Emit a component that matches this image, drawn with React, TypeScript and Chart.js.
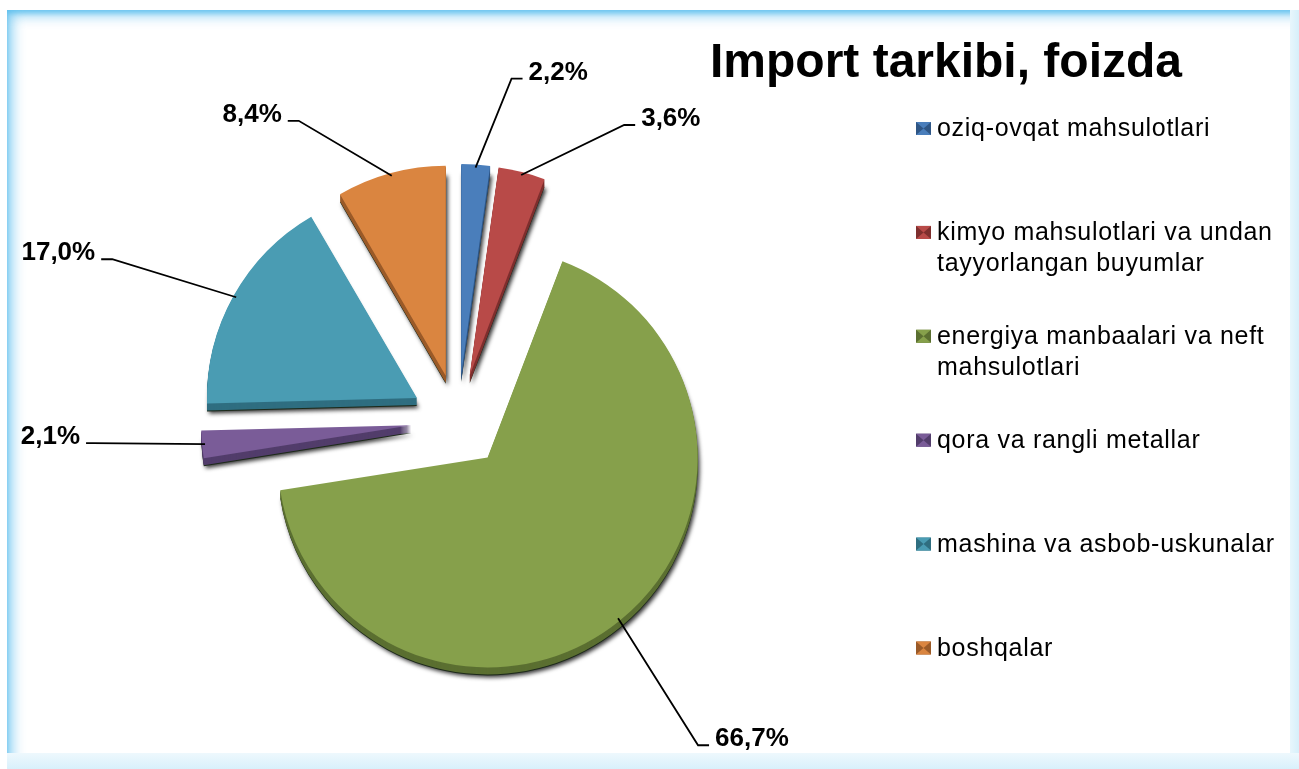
import React, { useEffect, useRef } from 'react';
import { Chart, registerables } from 'chart.js';

Chart.register(...registerables);

const title = 'Import tarkibi, foizda';
const categories = [
  'oziq-ovqat mahsulotlari',
  'kimyo mahsulotlari va undan tayyorlangan buyumlar',
  'energiya manbaalari va neft mahsulotlari',
  'qora va rangli metallar',
  'mashina va asbob-uskunalar',
  'boshqalar',
];
const shares = [2.2, 3.6, 66.7, 2.1, 17.0, 8.4];
const sliceColors = ['#4a7ebb', '#b84a48', '#86a04b', '#7a5c98', '#4a9cb3', '#da8540'];
const sideColors = ['#2f5685', '#7e2f2e', '#5b6f31', '#523d6b', '#2f6e80', '#9a5a28'];
// leader-line elbow offsets relative to the slice anchor (layout only)
const labelElbows = [[36, -89], [103, -50], [80, 127], [-112, -1], [-124, -38], [-93, -55]];

const EXPLODE = 47;
const DEPTH = 8;
const FONT = '"Liberation Sans", Arial, sans-serif';

const fmt = (v: number) => v.toFixed(1).replace('.', ',') + '%';

function drawArcWith(arc: any, ctx: CanvasRenderingContext2D, fill: string) {
  const proxy = Object.create(arc);
  proxy.options = Object.assign({}, arc.options, { backgroundColor: fill, borderWidth: 0, offset: 0 });
  arc.draw.call(proxy, ctx);
}

const pie3dPlugin = {
  id: 'pie3d',
  beforeDatasetDraw(chart: any, args: any) {
    const ctx: CanvasRenderingContext2D = chart.ctx;
    const arcs = args.meta.data;
    // side faces
    arcs.forEach((arc: any, i: number) => {
      const mid = (arc.startAngle + arc.endAngle) / 2;
      const dx = Math.cos(mid) * EXPLODE;
      const dy = Math.sin(mid) * EXPLODE;
      for (let t = DEPTH; t >= 1; t--) {
        ctx.save();
        if (t === DEPTH) {
          ctx.shadowColor = 'rgba(0,0,0,0.8)';
          ctx.shadowBlur = 4;
          ctx.shadowOffsetX = 2;
          ctx.shadowOffsetY = 2;
        }
        ctx.translate(dx, dy + t);
        drawArcWith(arc, ctx, t === DEPTH ? '#1d2a1a' : sideColors[i]);
        ctx.restore();
      }
    });
    // top faces
    arcs.forEach((arc: any, i: number) => {
      const mid = (arc.startAngle + arc.endAngle) / 2;
      ctx.save();
      ctx.translate(Math.cos(mid) * EXPLODE, Math.sin(mid) * EXPLODE);
      drawArcWith(arc, ctx, sliceColors[i]);
      ctx.restore();
    });
    return false;
  },
  afterDatasetsDraw(chart: any) {
    const ctx: CanvasRenderingContext2D = chart.ctx;
    const arcs = chart.getDatasetMeta(0).data;
    const values = chart.data.datasets[0].data;
    ctx.save();
    ctx.strokeStyle = '#000';
    ctx.lineWidth = 1.8;
    ctx.fillStyle = '#000';
    ctx.font = 'bold 26px ' + FONT;
    ctx.textBaseline = 'alphabetic';
    arcs.forEach((arc: any, i: number) => {
      const mid = (arc.startAngle + arc.endAngle) / 2;
      const r = EXPLODE + arc.outerRadius - 3;
      const ax = arc.x + Math.cos(mid) * r;
      const ay = arc.y + Math.sin(mid) * r;
      const [ex, ey] = labelElbows[i];
      const bx = ax + ex;
      const by = ay + ey;
      const dir = ex >= 0 ? 1 : -1;
      const leg = Math.abs(ey) < 5 ? 7 : 11;
      const lx = bx + dir * leg;
      ctx.beginPath();
      ctx.moveTo(ax, ay);
      ctx.lineTo(bx, by);
      ctx.lineTo(lx, by);
      ctx.stroke();
      ctx.textAlign = dir > 0 ? 'left' : 'right';
      ctx.fillText(fmt(values[i]), lx + dir * 6, by + 1);
    });
    ctx.restore();
  },
  afterDraw(chart: any) {
    const ctx: CanvasRenderingContext2D = chart.ctx;
    ctx.save();
    // title
    ctx.fillStyle = '#000';
    ctx.font = 'bold 48px ' + FONT;
    ctx.textAlign = 'center';
    ctx.textBaseline = 'alphabetic';
    ctx.fillText(title, 946, 77);
    // legend
    ctx.font = '25px ' + FONT;
    (ctx as any).letterSpacing = '0.7px';
    ctx.textAlign = 'left';
    const labels: string[] = chart.data.labels;
    const maxW = 352;
    labels.forEach((label, i) => {
      const base = 136 + i * 103.9;
      // marker
      const mx = 916, my = base - 14, mw = 15, mh = 13;
      ctx.fillStyle = sideColors[i];
      ctx.fillRect(mx, my, mw, mh);
      ctx.fillStyle = sliceColors[i];
      ctx.beginPath();
      ctx.moveTo(mx, my);
      ctx.lineTo(mx + mw, my);
      ctx.lineTo(mx + mw / 2, my + mh / 2);
      ctx.closePath();
      ctx.fill();
      ctx.beginPath();
      ctx.moveTo(mx, my + mh);
      ctx.lineTo(mx + mw, my + mh);
      ctx.lineTo(mx + mw / 2, my + mh / 2);
      ctx.closePath();
      ctx.fill();
      // text with wrapping
      ctx.fillStyle = '#000';
      const words = label.split(' ');
      const lines: string[] = [];
      let cur = '';
      words.forEach((w) => {
        const test = cur ? cur + ' ' + w : w;
        if (ctx.measureText(test).width > maxW && cur) {
          lines.push(cur);
          cur = w;
        } else cur = test;
      });
      if (cur) lines.push(cur);
      lines.forEach((ln, k) => ctx.fillText(ln, 937, base + k * 31));
    });
    ctx.restore();
  },
};

export default function App() {
  const ref = useRef<HTMLCanvasElement>(null);
  useEffect(() => {
    if (!ref.current) return;
    const chart = new Chart(ref.current, {
      type: 'pie',
      data: {
        labels: categories,
        datasets: [
          {
            data: shares,
            backgroundColor: sliceColors,
            borderWidth: 0,
            radius: 210,
          } as any,
        ],
      },
      options: {
        responsive: false,
        animation: false,
        layout: { padding: { left: 0, right: 383, top: 100, bottom: 27 } },
        plugins: {
          legend: { display: false },
          tooltip: { enabled: false },
          title: { display: false },
        },
      },
      plugins: [pie3dPlugin],
    });
    return () => chart.destroy();
  }, []);

  return (
    <div style={{ position: 'fixed', left: 0, top: 0, width: 1299, height: 769, background: '#fff', overflow: 'hidden' }}>
      <div
        style={{
          position: 'absolute',
          left: 7,
          top: 10,
          width: 1300,
          height: 770,
          background: '#fff',
          boxShadow:
            'inset 4px 4px 14px rgba(70,180,235,0.75), inset 0 3px 4px rgba(120,205,240,0.7)',
        }}
      />
      <div
        style={{
          position: 'absolute',
          left: 1290,
          top: 10,
          width: 9,
          height: 759,
          background: 'linear-gradient(to right, #e8f6fc, #d6effa)',
        }}
      />
      <div
        style={{
          position: 'absolute',
          left: 7,
          top: 753,
          width: 1292,
          height: 16,
          background: 'linear-gradient(to bottom, #eef8fd, #d8f0fb)',
        }}
      />
      <canvas ref={ref} width={1299} height={769} style={{ position: 'absolute', left: 0, top: 0 }} />
    </div>
  );
}
